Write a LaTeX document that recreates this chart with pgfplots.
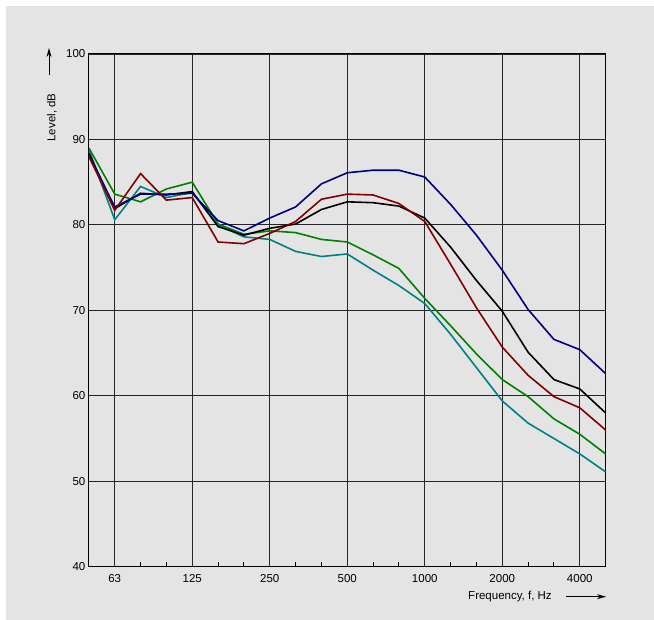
\documentclass[border=0pt]{standalone}
\usepackage{fontspec}
\setmainfont{Liberation Sans}
\usepackage{pgfplots}
\pgfplotsset{compat=1.18}
\usetikzlibrary{arrows.meta}

\definecolor{bg}{HTML}{E4E4E4}
\definecolor{cnavy}{HTML}{000080}
\definecolor{cred}{HTML}{800000}
\definecolor{cgreen}{HTML}{008000}
\definecolor{cteal}{HTML}{008080}

% band index: 0 = 50 Hz, 1 = 63 Hz, ... 20 = 5000 Hz (third octaves)
\begin{document}
\begin{tikzpicture}[x=1pt,y=1pt]
\fill[white] (0,0) rectangle (654,620);
\fill[bg] (6,0) rectangle (654,614);

\begin{axis}[
  at={(88.9pt,53.3pt)}, anchor=south west,
  scale only axis, width=516.7pt, height=512.7pt,
  xmin=0, xmax=20, ymin=40, ymax=100,
  xtick={1,4,7,10,13,16,19},
  xticklabels={63,125,250,500,1000,2000,4000},
  minor xtick={2,3,5,6,8,9,11,12,14,15,17,18},
  ytick={40,50,60,70,80,90,100},
  grid=major,
  major grid style={black!85, line width=0.9pt},
  axis line style={black, line width=1pt},
  tick align=inside, xtick pos=bottom, ytick pos=left,
  major tick length=0pt, minor tick length=5pt,
  minor tick style={black, line width=0.9pt},
  ticklabel style={font=\fontsize{11.5}{13}\selectfont},
  xticklabel style={yshift=-4pt},
  /pgf/number format/assume math mode=true,
  every axis plot/.append style={line width=1.6pt, mark=none},
]
\addplot[cgreen] coordinates {
 (0,89.0) (1,83.6) (2,82.7) (3,84.2) (4,85.0) (5,80.1) (6,78.9) (7,79.3)
 (8,79.1) (9,78.3) (10,78.0) (11,76.5) (12,74.9) (13,71.4) (14,68.2)
 (15,64.9) (16,61.9) (17,59.9) (18,57.3) (19,55.5) (20,53.2)};
\addplot[cteal] coordinates {
 (0,88.8) (1,80.6) (2,84.5) (3,83.2) (4,83.8) (5,80.0) (6,78.6) (7,78.3)
 (8,76.9) (9,76.3) (10,76.6) (11,74.7) (12,72.9) (13,70.8) (14,67.2)
 (15,63.3) (16,59.4) (17,56.8) (18,55.0) (19,53.2) (20,51.1)};
\addplot[black] coordinates {
 (0,88.4) (1,81.9) (2,83.7) (3,83.5) (4,83.9) (5,79.8) (6,78.8) (7,79.6)
 (8,80.1) (9,81.8) (10,82.7) (11,82.6) (12,82.2) (13,80.8) (14,77.4)
 (15,73.5) (16,69.9) (17,65.1) (18,61.9) (19,60.8) (20,58.0)};
\addplot[cnavy] coordinates {
 (0,88.2) (1,82.1) (2,83.6) (3,83.6) (4,83.7) (5,80.5) (6,79.3) (7,80.8)
 (8,82.1) (9,84.8) (10,86.1) (11,86.4) (12,86.4) (13,85.6) (14,82.4)
 (15,78.8) (16,74.7) (17,70.1) (18,66.6) (19,65.4) (20,62.6)};
\addplot[cred] coordinates {
 (0,88.0) (1,81.7) (2,86.0) (3,82.9) (4,83.2) (5,78.0) (6,77.8) (7,79.0)
 (8,80.4) (9,83.0) (10,83.6) (11,83.5) (12,82.5) (13,80.4) (14,75.4)
 (15,70.3) (16,65.7) (17,62.4) (18,59.9) (19,58.6) (20,56.0)};
\end{axis}

\node[rotate=90, font=\fontsize{11.5}{13}\selectfont] at (52,502.5) {Level, dB};
\draw[line width=1pt, -{Stealth[length=9pt,width=5pt]}] (49,545) -- (49,572);
\node[font=\fontsize{11.5}{13}\selectfont] at (510,23.3) {Frequency, f, Hz};
\draw[line width=1pt, -{Stealth[length=9pt,width=5pt]}] (566,23.3) -- (606,23.3);
\end{tikzpicture}
\end{document}
